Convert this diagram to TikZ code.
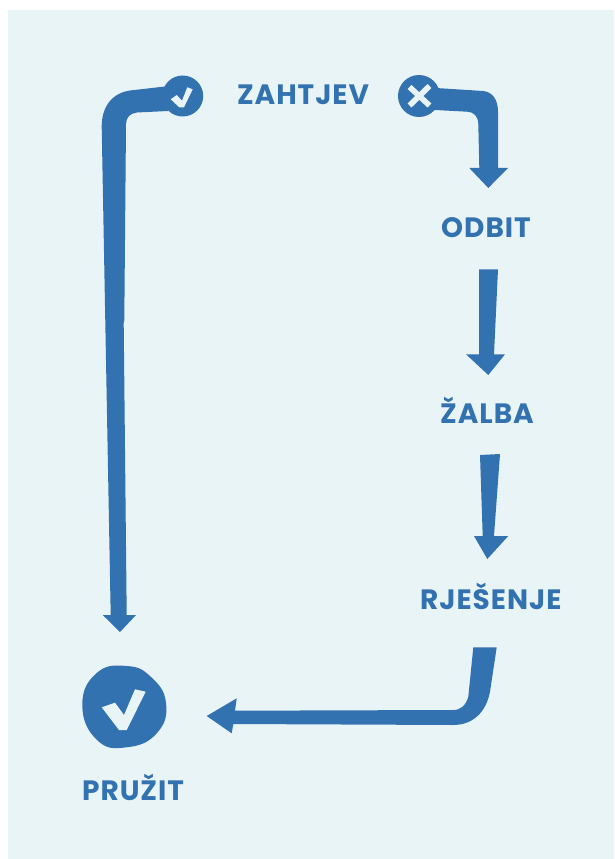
\documentclass[tikz,border=0pt]{standalone}
\usepackage{fontspec}
\setmainfont[LetterSpace=3.5]{Poppins}
\definecolor{blueshape}{HTML}{3272B0}
\definecolor{panelbg}{HTML}{E8F4F5}
\tikzset{
 label text/.style={text=blueshape,font=\fontsize{21}{25}\selectfont\bfseries,anchor=base,inner sep=0pt},
 arrow shape/.style={fill=blueshape,draw=none},
 mark shape/.style={fill=panelbg,draw=none}
}
\begin{document}
\begin{tikzpicture}[x=0.75pt,y=-0.75pt]
 \useasboundingbox (0,0) rectangle (614,859);
 \fill[panelbg] (8,10) rectangle (614,859); %panel

 \node[label text] (zahtjev) at (303,105) {ZAHTJEV};
 \node[label text] (odbit) at (486,237.3) {ODBIT};
 \node[label text] (zalba) at (487,423.3) {ŽALBA};
 \node[label text] (rjesenje) at (490.8,609.3) {RJEŠENJE};
 \node[label text] (pruzit) at (133,800) {PRUŽIT};

 \coordinate (yes) at (182.7,96); %left circle
 \coordinate (no) at (419,96); %right circle
 \fill[arrow shape] (yes) circle[radius=20.5];
 \fill[arrow shape] (no) circle[radius=21];

 %left arrow
 \fill[arrow shape] (165,86.5) -- (130,90.5) .. controls (112,93) and (101.5,107) .. (101.7,127)
  -- (110.7,615) -- (102.7,615) -- (120,632) -- (136,615) -- (126.7,615) -- (123.7,323)
  -- (124.3,320) -- (126,124) .. controls (126.3,117) and (130,113.5) .. (137,112.5)
  -- (168,111) -- cycle;
 %right arrow, top
 \fill[arrow shape] (436,88) -- (483,91) .. controls (493,92) and (498,100) .. (498,112)
  -- (498,168) -- (508,168) -- (488.3,188) -- (469.3,168) -- (479.3,168) -- (478.3,124)
  .. controls (478,116) and (474,112) .. (467,111.7) -- (435,110) -- cycle;
 %second arrow
 \fill[arrow shape] (479,269.3) -- (498,269.3) -- (494,354.3) -- (505,354.3) -- (488.3,375)
  -- (466,354.3) -- (479,354.3) -- cycle;
 %third arrow
 \fill[arrow shape] (480,455) -- (500,454) -- (494,536) -- (508.3,536) -- (487.3,559)
  -- (474,536) -- (482.7,536) -- cycle;
 %bottom arrow
 \fill[arrow shape] (473.3,647.3) -- (496.7,647.3) -- (490,691.7)
  .. controls (486,713) and (472,725) .. (453.3,725) -- (233.3,724) -- (231.7,733.3)
  -- (206.7,716) -- (236.7,698.3) -- (235,710.7) -- (453.3,710)
  .. controls (461,710) and (466,705) .. (468.3,696.7) -- cycle;

 %big circle
 \fill[arrow shape] plot[smooth cycle,tension=0.8] coordinates {(126.7,666) (151,677) (166,703) (157,733)
  (126.7,747.3) (97,740) (82.3,705) (96.7,673)};
 %checks
 \fill[mark shape] (101.7,707.3) -- (115,702.7) -- (124,715) -- (135,689.3) -- (145.7,691.7)
  -- (126.7,730) -- (119,730) -- cycle;
 \fill[mark shape] (170.7,99.3) -- (176.7,95) -- (182,100.7) -- (187.3,87.3) -- (192.7,89.3)
  -- (184,107.3) -- (179.3,107.3) -- cycle;
 \draw[panelbg,line width=4.2pt] (409.5,87) -- (429.5,105.5);
 \draw[panelbg,line width=4.2pt] (429.5,86) -- (409.5,105.5);
\end{tikzpicture}
\end{document}
